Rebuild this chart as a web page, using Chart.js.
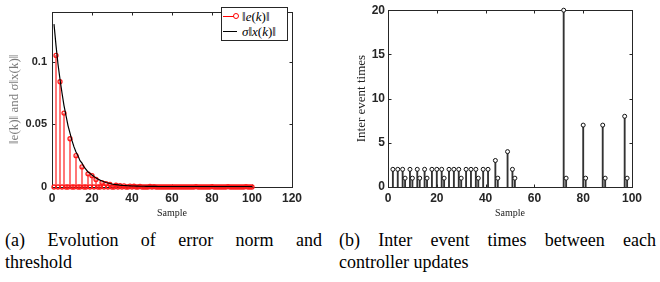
<!DOCTYPE html>
<html>
<head>
<meta charset="utf-8">
<script src="https://cdn.jsdelivr.net/npm/chart.js@4"></script>
<style>
  body { margin: 0; background: #fff; width: 660px; height: 282px; position: relative; overflow: hidden; }
  canvas { position: absolute; top: 0; }
  #errChart { left: 0; }
  #interChart { left: 330px; }
  .legend { position: absolute; left: 221px; top: 7px; width: 65px; height: 32px; border: 1px solid #262626; background: #fff;
            font: 13px "Liberation Serif", "DejaVu Serif", serif; color: #000; }
  .row { position: absolute; left: 0; height: 15px; width: 65px; }
  .row .ln { position: absolute; left: 1px; top: 7px; width: 14px; border-top: 1px solid; }
  .row .mk { position: absolute; left: 11px; top: 4px; width: 4px; height: 4px; border: 1px solid #f00; border-radius: 50%; background: #fff; }
  .row .tx { position: absolute; left: 20px; top: 0; line-height: 15px; white-space: nowrap; }
  .cap { position: absolute; width: 317px; font: 18px/22px "Liberation Serif", "DejaVu Serif", serif; color: #000; }
  .cap .l1 { text-align: justify; text-align-last: justify; }
</style>
</head>
<body>
<canvas id="errChart" width="330" height="222"></canvas>
<canvas id="interChart" width="330" height="222"></canvas>

<div class="legend">
  <div class="row" style="top:1px"><span class="ln" style="border-color:#f00"></span><span class="mk"></span><span class="tx">‖<i>e</i>(<i>k</i>)‖</span></div>
  <div class="row" style="top:16px"><span class="ln" style="border-color:#000"></span><span class="tx"><i>σ</i>‖<i>x</i>(<i>k</i>)‖</span></div>
</div>

<div class="cap" style="left:5px; top:229px">
  <div class="l1">(a) Evolution of error norm and</div>
  <div>threshold</div>
</div>
<div class="cap" style="left:339px; top:229px">
  <div class="l1">(b) Inter event times between each</div>
  <div>controller updates</div>
</div>

<script>
// samples where the controller was updated, and ||e(k)|| just before each reset
const eventSamples = [2, 4, 6, 9, 12, 15, 18, 20, 22, 25, 27, 29, 32, 34, 36, 39, 41, 44, 49, 51, 72, 80, 88, 97];
const eventError = [0.105, 0.084, 0.059, 0.0385, 0.025, 0.016, 0.0105, 0.009, 0.006, 0.0035, 0.0026, 0.002,
                    0.0014, 0.0011, 0.0009, 0.0007, 0.0006, 0.0005, 0.0004, 0.0003, 0.0003, 0.0003, 0.0003, 0.0003];

// sigma*||x(k)||, k = 1..100
const threshold = [
  0.130, 0.113, 0.098, 0.086, 0.075, 0.065, 0.057, 0.049, 0.043, 0.037,
  0.032, 0.028, 0.025, 0.021, 0.019, 0.016, 0.014, 0.012, 0.011, 0.0095,
  0.0083, 0.0072, 0.0063, 0.0055, 0.0048, 0.0042, 0.0036, 0.0032, 0.0028, 0.0024,
  0.0021, 0.0019, 0.0017, 0.0015, 0.0013, 0.0012, 0.0011, 0.0010, 0.0009, 0.0008,
  0.0008, 0.0007, 0.0007, 0.0006, 0.0006, 0.0006, 0.0005, 0.0005, 0.0005, 0.0005,
  0.0005, 0.0005, 0.0004, 0.0004, 0.0004, 0.0004, 0.0004, 0.0004, 0.0004, 0.0004,
  0.0004, 0.0004, 0.0004, 0.0004, 0.0004, 0.0004, 0.0004, 0.0004, 0.0004, 0.0004,
  0.0004, 0.0004, 0.0004, 0.0004, 0.0004, 0.0004, 0.0004, 0.0004, 0.0004, 0.0004,
  0.0004, 0.0004, 0.0004, 0.0004, 0.0004, 0.0004, 0.0004, 0.0004, 0.0004, 0.0004,
  0.0004, 0.0004, 0.0004, 0.0004, 0.0004, 0.0004, 0.0004, 0.0004, 0.0004, 0.0004
];

// right plot: inter event times
const interSamples = [2, 4, 6, 7, 9, 10, 12, 13, 15, 16, 18, 20, 22, 23, 25, 27, 29, 30, 32, 34, 36, 37, 39, 41,
                      44, 45, 49, 51, 52, 72, 73, 80, 81, 88, 89, 97, 98];
const interTimes = [2, 2, 2, 1, 2, 1, 2, 1, 2, 1, 2, 2, 2, 1, 2, 2, 2, 1, 2, 2, 2, 1, 2, 2,
                    3, 1, 4, 2, 1, 20, 1, 7, 1, 7, 1, 8, 1];

const errTicks = [0, 0.05, 0.1];
const sansBold = { family: '"Liberation Sans", Arial, sans-serif', weight: 'bold' };
const serif = '"Liberation Serif", "DejaVu Serif", serif';

// full box with MATLAB-style inward ticks
const frame = {
  id: 'frame',
  beforeDatasetsDraw(chart) {
    const { ctx, chartArea: a, scales: { x, y } } = chart;
    const L = Math.round(a.left) + 0.5, R = Math.round(a.right) + 0.5;
    const T = Math.round(a.top) + 0.5, B = Math.round(a.bottom) + 0.5;
    ctx.save();
    ctx.strokeStyle = '#262626';
    ctx.lineWidth = 1;
    ctx.strokeRect(L, T, R - L, B - T);
    ctx.beginPath();
    x.ticks.forEach(t => {
      const px = Math.round(x.getPixelForValue(t.value)) + 0.5;
      ctx.moveTo(px, B); ctx.lineTo(px, B - 3);
      ctx.moveTo(px, T); ctx.lineTo(px, T + 3);
    });
    y.ticks.forEach(t => {
      const py = Math.round(y.getPixelForValue(t.value)) + 0.5;
      ctx.moveTo(L, py); ctx.lineTo(L + 3, py);
      ctx.moveTo(R, py); ctx.lineTo(R - 3, py);
    });
    ctx.stroke();
    ctx.restore();
  }
};

const errorPts = eventSamples.map((k, i) => ({ x: k, y: eventError[i] }));
const markerPts = threshold.map((_, i) => {
  const j = eventSamples.indexOf(i + 1);
  return { x: i + 1, y: j >= 0 ? eventError[j] : 0 };
});
const threshPts = threshold.map((v, i) => ({ x: i + 1, y: v }));

new Chart(document.getElementById('errChart'), {
  type: 'line',
  data: {
    datasets: [
      { type: 'line', data: threshPts, borderColor: '#000', borderWidth: 1.2, pointRadius: 0, order: 0 },
      { type: 'line', data: markerPts, showLine: false, pointStyle: 'circle', pointRadius: 2,
        borderColor: '#ff1a1a', backgroundColor: 'rgba(0,0,0,0)', pointBorderWidth: 1.3, clip: false, order: 1 },
      { type: 'bar', data: errorPts, backgroundColor: 'rgba(255,60,60,0.75)', barThickness: 1.2,
        grouped: false, order: 2 }
    ]
  },
  options: {
    responsive: false,
    animation: false,
    devicePixelRatio: 1,
    layout: { padding: { top: 4, right: 38, left: 0, bottom: 0 } },
    plugins: { legend: { display: false }, tooltip: { enabled: false } },
    scales: {
      x: {
        type: 'linear', min: 0, max: 120, offset: false,
        grid: { display: false, drawTicks: false },
        border: { display: false },
        ticks: { stepSize: 20, padding: 4, color: '#262626', font: { ...sansBold, size: 12 } },
        title: { display: true, text: 'Sample', color: '#222', font: { family: serif, size: 10 }, padding: { top: 0, bottom: 3 } },
        afterFit: s => { s.height = 35; }
      },
      y: {
        min: 0, max: 0.14,
        grid: { display: false, drawTicks: false },
        border: { display: false },
        afterBuildTicks: s => { s.ticks = errTicks.map(v => ({ value: v })); },
        ticks: { padding: 5, color: '#262626', font: { ...sansBold, size: 11 }, callback: v => String(v) },
        title: { display: true, text: '‖e(k)‖ and σ‖x(k)‖', color: '#7a7a7a', font: { family: serif, size: 13 }, padding: { top: 7 } },
        afterFit: s => { s.width = 52; }
      }
    }
  },
  plugins: [frame]
});

const interPts = interSamples.map((k, i) => ({ x: k, y: interTimes[i] }));

new Chart(document.getElementById('interChart'), {
  type: 'line',
  data: {
    datasets: [
      { type: 'line', data: interPts, showLine: false, pointStyle: 'circle', pointRadius: 2,
        borderColor: '#111', backgroundColor: '#fff', pointBorderWidth: 1, clip: false, order: 0 },
      { type: 'bar', data: interPts, backgroundColor: '#333', barThickness: 1.2, grouped: false, order: 1 }
    ]
  },
  options: {
    responsive: false,
    animation: false,
    devicePixelRatio: 1,
    layout: { padding: { top: 4, right: 28, left: 0, bottom: 0 } },
    plugins: { legend: { display: false }, tooltip: { enabled: false } },
    scales: {
      x: {
        type: 'linear', min: 0, max: 100, offset: false,
        grid: { display: false, drawTicks: false },
        border: { display: false },
        ticks: { stepSize: 20, padding: 4, color: '#262626', font: { ...sansBold, size: 12 } },
        title: { display: true, text: 'Sample', color: '#222', font: { family: serif, size: 10 }, padding: { top: 0, bottom: 3 } },
        afterFit: s => { s.height = 35; }
      },
      y: {
        min: 0, max: 20,
        grid: { display: false, drawTicks: false },
        border: { display: false },
        ticks: { stepSize: 5, padding: 3, color: '#262626', font: { ...sansBold, size: 12 } },
        title: { display: true, text: 'Inter event times', color: '#222', font: { family: serif, size: 13 }, padding: { top: 24 } },
        afterFit: s => { s.width = 58; }
      }
    }
  },
  plugins: [frame]
});
</script>
</body>
</html>
